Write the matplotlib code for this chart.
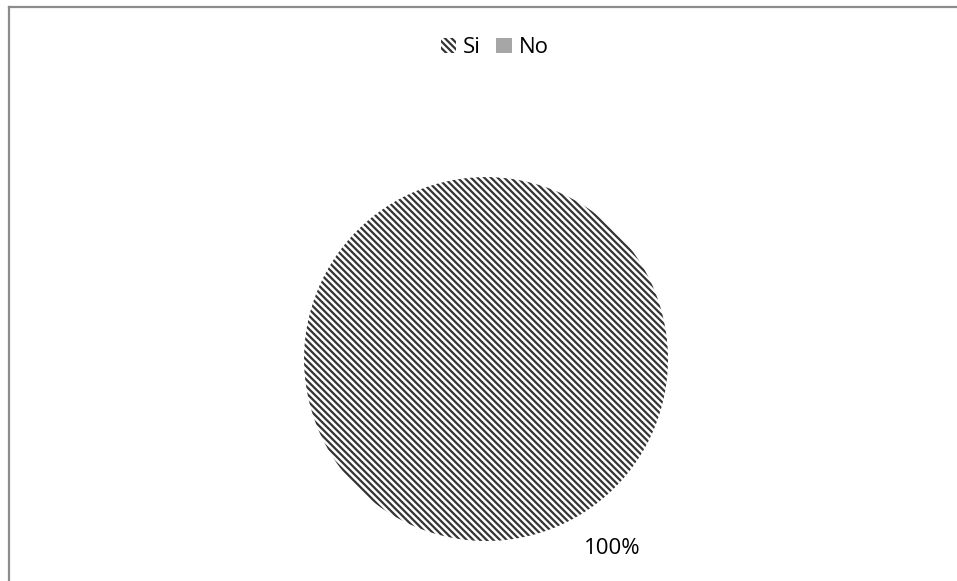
import matplotlib.pyplot as plt
from matplotlib.lines import Line2D
from matplotlib.patches import Patch

plt.rcParams['font.family'] = ['Open Sans', 'DejaVu Sans']
plt.rcParams['hatch.linewidth'] = 1.6

# data
categories = ['Si', 'No']
values = [100, 0]

hatch_col = '#333333'
hatch_pat = '\\' * 5


def pct_label(p):
    return f'{p:.0f}%' if p > 0 else ''


fig = plt.figure(figsize=(9.57, 5.81), dpi=100)
ax = fig.add_axes([0.2701, -0.0095, 0.4755, 0.783])

# startangle 123.75 keeps the full-circle wedge exact in floating point
wedges, texts, autotexts = ax.pie(values, startangle=123.75, counterclock=True,
                                  autopct=pct_label, pctdistance=1.25,
                                  textprops={'fontsize': 16, 'color': 'black'})
wedges[0].set_facecolor('white')
wedges[0].set_hatch(hatch_pat)
wedges[0].set_edgecolor(hatch_col)
wedges[0].set_linewidth(0)
wedges[1].set_facecolor('#a6a6a6')
wedges[1].set_edgecolor('none')
ax.set_aspect('equal')

handles = [Patch(facecolor='white', hatch=hatch_pat, edgecolor=hatch_col, linewidth=0),
           Patch(facecolor='#a6a6a6', edgecolor='none')]
fig.legend(handles, categories, loc='center', bbox_to_anchor=(0.517, 0.918),
           ncol=2, frameon=False, fontsize=16, handlelength=0.7,
           handleheight=0.7, handletextpad=0.3, columnspacing=0.7)

# chart border (left and top edges)
fig.add_artist(Line2D([0.0099, 0.0099], [0.0, 0.988], color='#8c8c8c', lw=1.6))
fig.add_artist(Line2D([0.0099, 1.0], [0.988, 0.988], color='#8c8c8c', lw=1.6))

plt.savefig('out.png', dpi=100)
plt.close()
